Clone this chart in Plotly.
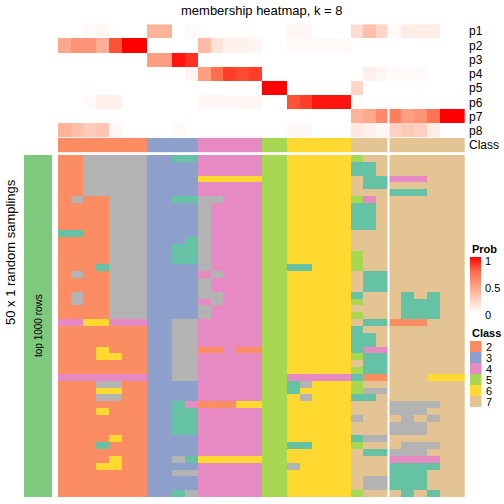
import plotly.graph_objects as go

W = H = 504
FONT = "Liberation Sans, Arial, sans-serif"

title_text = "membership heatmap, k = 8"
prob_rows = ["p1", "p2", "p3", "p4", "p5", "p6", "p7", "p8"]
legend_classes = ["2", "3", "4", "5", "6", "7"]
prob_ticks = [0, 0.5, 1]
prob_tick_labels = ["0", "0.5", "1"]

# Set2 palette by class id (1 and 8 appear in body but not in legend)
class_colors = {1: "#66C2A5", 2: "#FC8D62", 3: "#8DA0CB", 4: "#E78AC3",
                5: "#A6D854", 6: "#FFD92F", 7: "#E5C494", 8: "#B3B3B3"}

column_class = [2, 2, 2, 2, 2, 2, 2, 3, 3, 3, 3, 4, 4, 4, 4, 4, 5, 5,
                6, 6, 6, 6, 6, 7, 7, 7, 7, 7, 7, 7, 7, 7]

p1 = [0, 0, 0.03, 0.05, 0, 0, 0, 0.4, 0.4, 0, 0.03, 0, 0, 0, 0, 0, 0, 0,
      0.05, 0.04, 0, 0, 0, 0.18, 0.33, 0.22, 0.03, 0.1, 0.1, 0.1, 0, 0]
p2 = [0.45, 0.55, 0.55, 0.42, 0.8, 1, 1, 0, 0, 0, 0, 0.35, 0.15, 0.07, 0.07, 0.05, 0, 0,
      0.03, 0.03, 0.03, 0.03, 0.03, 0, 0, 0, 0, 0, 0, 0, 0, 0]
p3 = [0, 0, 0, 0, 0, 0, 0, 0.5, 0.5, 0.95, 0.88, 0, 0, 0, 0, 0, 0, 0,
      0, 0, 0, 0, 0, 0, 0, 0, 0, 0, 0, 0, 0, 0]
p4 = [0, 0, 0, 0, 0, 0, 0, 0, 0, 0, 0.05, 0.5, 0.72, 0.85, 0.82, 0.85, 0, 0,
      0, 0, 0, 0, 0, 0, 0.08, 0.05, 0.03, 0.03, 0.03, 0, 0, 0]
p5 = [0, 0, 0, 0, 0, 0, 0, 0, 0, 0, 0, 0, 0, 0, 0, 0, 1, 1,
      0, 0, 0, 0, 0, 0.22, 0, 0, 0, 0, 0, 0, 0, 0]
p6 = [0, 0, 0.03, 0.08, 0.08, 0, 0, 0, 0, 0, 0, 0.04, 0.04, 0.04, 0.05, 0.05, 0, 0,
      0.8, 0.85, 0.95, 0.95, 0.95, 0.02, 0, 0, 0, 0, 0, 0, 0, 0]
p7 = [0, 0, 0, 0, 0, 0, 0, 0, 0, 0, 0, 0, 0, 0, 0, 0, 0, 0,
      0, 0, 0, 0, 0, 0.4, 0.45, 0.6, 0.65, 0.5, 0.55, 0.7, 1, 1]
p8 = [0.4, 0.33, 0.27, 0.3, 0.04, 0, 0, 0, 0, 0.03, 0, 0, 0, 0, 0, 0, 0, 0,
      0.04, 0.04, 0, 0, 0, 0.12, 0.08, 0.04, 0.25, 0.28, 0.25, 0.1, 0, 0]

# 50 random samplings x 32 columns, class id per cell (groups separated by spaces)
samplings = [
    "2288888 3311 44444 55 66666 577777777",
    "2288888 3333 44444 55 66666 117777777",
    "2288888 3333 44444 55 66666 117777777",
    "2288888 3333 66666 55 66666 711444777",
    "2288888 3333 44444 55 66666 711777777",
    "2288888 3333 44444 55 66666 777111777",
    "2822888 3311 88444 55 66666 547777777",
    "2222888 3333 84444 55 66666 117777777",
    "2222888 3333 84444 55 66666 117777777",
    "2222888 3333 84444 55 66666 117777777",
    "2222888 3333 84444 55 66666 117777777",
    "1122888 3333 84444 55 66666 777777777",
    "2222888 3331 84444 55 66666 777777777",
    "2222888 3311 84444 55 66666 777777777",
    "2222888 3311 84444 55 66666 577777777",
    "2222888 3311 84444 55 66666 577777777",
    "2221888 3333 84444 55 11666 577777777",
    "2822888 3333 48444 55 66666 711777777",
    "2222888 3333 84444 55 66666 711777777",
    "2222888 3333 84444 55 66666 711777777",
    "2822888 3333 88444 55 66666 177717177",
    "2822888 3333 48444 55 66666 577711177",
    "2222888 3333 84444 55 66666 777711177",
    "2222888 3333 84444 55 66666 577711177",
    "4466444 3388 44444 55 66666 711222777",
    "2222222 3388 44444 55 66666 177777777",
    "2222222 3388 44444 55 66666 117777777",
    "2222222 3388 44444 55 66666 117777777",
    "2226222 3388 22422 55 66666 144777777",
    "2226622 3388 44444 55 66666 511777777",
    "2222222 3388 44444 55 66666 711777777",
    "2222222 3388 44444 55 66666 511777777",
    "4444444 3388 44444 55 44444 122777666",
    "2228822 3333 44444 55 18666 577777777",
    "2226622 3333 44444 55 16666 588777777",
    "2228822 3333 44444 55 68666 117777777",
    "2222222 3314 22266 55 66666 777888877",
    "2226222 3311 44444 55 66666 777888777",
    "2222222 3311 44444 55 66666 877787877",
    "2222222 3311 44444 55 66666 777888777",
    "2222222 3311 44444 55 66666 777888777",
    "2222622 3333 44444 55 66666 188777777",
    "2221222 3333 44444 55 11666 577788877",
    "2222222 3333 44444 55 66666 711888777",
    "2222622 3381 66666 55 66666 777444477",
    "2226622 3333 44444 55 86666 777111177",
    "2222222 3388 44444 55 66666 777111777",
    "2222222 3333 44444 55 66666 788111777",
    "2222222 3333 44444 55 66666 788111777",
    "2222222 3318 44444 55 66666 577717177",
]

body = [[int(ch) for ch in row.replace(" ", "")] for row in samplings]
ncol = len(column_class)
nrow = len(body)


def fx(x):
    return x / W


def fy(y):
    return 1 - y / H


# discrete colorscale for classes 1..8
disc = []
for i in range(8):
    c = class_colors[i + 1]
    disc.append([i / 8, c])
    disc.append([(i + 1) / 8, c])

prob_scale = [[0, "#FFFFFF"], [0.25, "#FFCFBF"], [0.5, "#FF9E81"],
              [0.75, "#FF6846"], [1, "#FF0000"]]

cols = list(range(ncol))
fig = go.Figure()

fig.add_trace(go.Heatmap(
    z=body, x=cols, y=list(range(nrow)), colorscale=disc, zmin=0.5, zmax=8.5,
    showscale=False, hoverinfo="skip", xaxis="x", yaxis="y"))

BAR_TOP, BAR_LEN = 257, 56
fig.add_trace(go.Heatmap(
    z=[p1, p2, p3, p4, p5, p6, p7, p8], x=cols, y=list(range(8)),
    colorscale=prob_scale, zmin=0, zmax=1, hoverinfo="skip",
    xaxis="x", yaxis="y2",
    colorbar=dict(x=fx(470), xanchor="left", y=fy(BAR_TOP), yanchor="top",
                  len=BAR_LEN, lenmode="pixels", thickness=11, thicknessmode="pixels",
                  xpad=0, ypad=0, outlinewidth=0,
                  tickvals=prob_ticks, ticks="", showticklabels=False)))

fig.add_trace(go.Heatmap(
    z=[column_class], x=cols, y=[0], colorscale=disc, zmin=0.5, zmax=8.5,
    showscale=False, hoverinfo="skip", xaxis="x", yaxis="y3"))

shapes = []
annotations = []

# left green bar
shapes.append(dict(type="rect", xref="paper", yref="paper",
                   x0=fx(24), x1=fx(52), y0=fy(497), y1=fy(155),
                   fillcolor="#7FC97F", line=dict(width=0), layer="above"))
# column split line
shapes.append(dict(type="line", xref="paper", yref="paper",
                   x0=fx(388.5), x1=fx(388.5), y0=fy(497), y1=fy(24),
                   line=dict(color="white", width=2), layer="above"))

# prob legend tick marks (white, on both edges of the bar) and labels
for v, lab in zip(prob_ticks, prob_tick_labels):
    yv = BAR_TOP + (1 - v) * BAR_LEN
    if 0 < v < 1:
        for xa, xb in ((470, 473.5), (477.5, 481)):
            shapes.append(dict(type="line", xref="paper", yref="paper",
                               x0=fx(xa), x1=fx(xb), y0=fy(yv), y1=fy(yv),
                               line=dict(color="white", width=1), layer="above"))
    ylab = min(max(yv + 2.5, BAR_TOP + 3.5), BAR_TOP + BAR_LEN + 2)
    annotations.append(dict(text=lab, x=fx(482.5), y=fy(ylab), xref="paper",
                            yref="paper", xanchor="left", yanchor="middle",
                            showarrow=False, font=dict(family=FONT, size=11, color="black")))

# class legend squares + labels
for i, lab in enumerate(legend_classes):
    top = 341 + 11 * i
    shapes.append(dict(type="rect", xref="paper", yref="paper",
                       x0=fx(470), x1=fx(481.5), y0=fy(top + 11), y1=fy(top),
                       fillcolor=class_colors[int(lab)], line=dict(width=0)))
    annotations.append(dict(text=lab, x=fx(483.5), y=fy(top + 6), xref="paper",
                            yref="paper", xanchor="left", yanchor="middle",
                            showarrow=False, font=dict(family=FONT, size=11, color="black")))

annotations.append(dict(text="<b>Class</b>", x=fx(469.5), y=fy(332.5), xref="paper",
                        yref="paper", xanchor="left", yanchor="middle", showarrow=False,
                        font=dict(family=FONT, size=11, color="black")))
annotations.append(dict(text="<b>Prob</b>", x=fx(469.5), y=fy(248.5), xref="paper",
                        yref="paper", xanchor="left", yanchor="middle", showarrow=False,
                        font=dict(family=FONT, size=11, color="black")))

# row labels
row_h = (152.3 - 24.3) / 9
for i, lab in enumerate(prob_rows + ["Class"]):
    annotations.append(dict(text=lab, x=fx(466.5), y=fy(24.3 + row_h * (i + 0.5)),
                            xref="paper", yref="paper", xanchor="left", yanchor="middle",
                            showarrow=False, font=dict(family=FONT, size=12, color="black")))

annotations.append(dict(text=title_text, x=fx(261.5), y=fy(10.5), xref="paper", yref="paper",
                        xanchor="center", yanchor="middle", showarrow=False,
                        font=dict(family=FONT, size=13, color="black")))
annotations.append(dict(text="50 x 1 random samplings", x=fx(10), y=fy(252),
                        xref="paper", yref="paper", xanchor="center", yanchor="middle",
                        textangle=-90, showarrow=False,
                        font=dict(family=FONT, size=13, color="black")))
annotations.append(dict(text="top 1000 rows", x=fx(38), y=fy(326),
                        xref="paper", yref="paper", xanchor="center", yanchor="middle",
                        textangle=-90, showarrow=False,
                        font=dict(family=FONT, size=10, color="black")))

fig.update_layout(
    width=W, height=H, margin=dict(l=0, r=0, t=0, b=0),
    paper_bgcolor="white", plot_bgcolor="white",
    xaxis=dict(domain=[fx(58), fx(464.7)], range=[-0.5, ncol - 0.5], visible=False,
               fixedrange=True),
    yaxis=dict(domain=[fy(497), fy(155)], range=[nrow - 0.5, -0.5], visible=False,
               fixedrange=True),
    yaxis2=dict(domain=[fy(137), fy(24.3)], range=[7.5, -0.5], visible=False,
                anchor="x", fixedrange=True),
    yaxis3=dict(domain=[fy(152.3), fy(137.7)], range=[0.5, -0.5], visible=False,
                anchor="x", fixedrange=True),
    shapes=shapes, annotations=annotations, showlegend=False,
)

fig.write_html("out.html", config={"displayModeBar": False},
               post_script="document.body.style.margin='0';document.body.style.overflow='hidden';")
